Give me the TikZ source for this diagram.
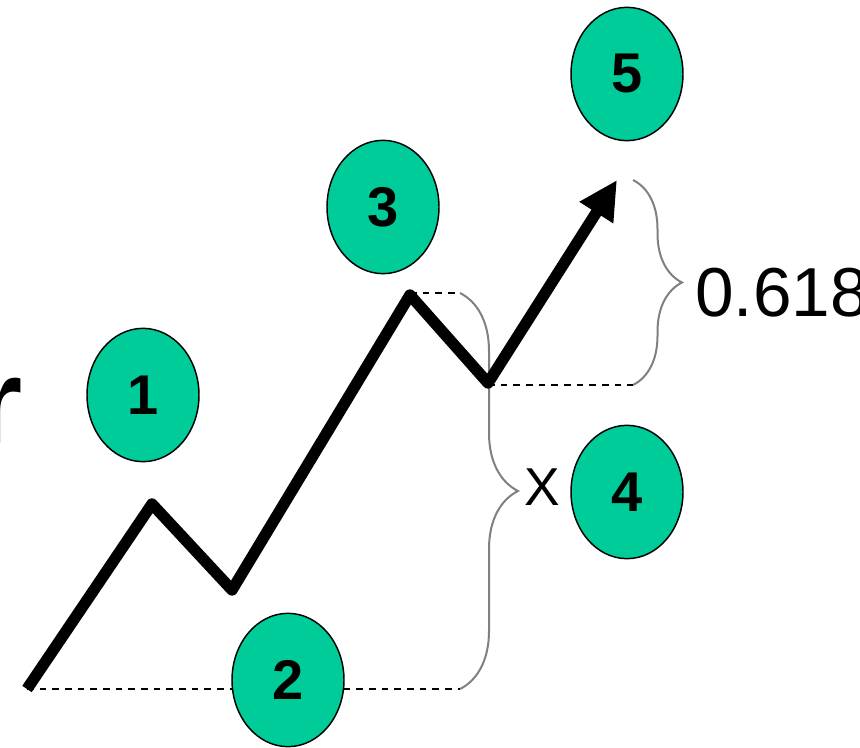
\documentclass[tikz,border=0pt]{standalone}
\usepackage{fontspec}
\setmainfont{Liberation Sans}
\usetikzlibrary{shapes.geometric, arrows.meta, positioning, decorations.pathreplacing}
\definecolor{wavegreen}{RGB}{0,204,153}

\begin{document}
\begin{tikzpicture}[
  x=0.75pt, y=-0.75pt,
  wave/.style={ellipse, draw=black, line width=1.1pt, fill=wavegreen, minimum width=84pt, minimum height=100pt, inner sep=0pt, font=\fontsize{42}{42}\selectfont\bfseries},
  trend/.style={line width=8.5pt, line join=round},
  level/.style={draw=black, line width=1.1pt, dash pattern=on 5pt off 4.5pt},
  measure/.style={draw=gray, line width=1.5pt, decorate, decoration={brace, amplitude=#1}},
  lbl/.style={inner sep=0pt, font=\fontsize{#1}{#1}\selectfont}
]
\useasboundingbox (0,0) rectangle (860,748);

% Points of the wave
\coordinate (p0) at (27,689);
\coordinate (p1) at (152,504);
\coordinate (p2) at (232,590);
\coordinate (p3) at (410,295);
\coordinate (p4) at (488,383);
\coordinate (p5) at (617,180);

% Brace ends
\coordinate (b1top) at (633,180);
\coordinate (b1bot) at (633,385);
\coordinate (b2top) at (460,293);
\coordinate (b2bot) at (460,689);

% Braces and levels
\draw[measure=43.5pt] (b2top) -- (b2bot);
\draw[measure=36.75pt] (b1top) -- (b1bot);
\draw[level] (p0) -- (b2bot);
\draw[level] (p3 |- b2top) -- (b2top);
\draw[level] (p4 |- b1bot) -- (b1bot);

% Wave
\draw[trend, -{Triangle[length=29pt, width=28pt]}] (p0) -- (p1) -- (p2) -- (p3) -- (p4) -- (p5);

% Nodes
\node[wave] (c1) at (143,395) {1};
\node[wave] (c2) at (288,680) {2};
\node[wave] (c3) at (383,207) {3};
\node[wave] (c4) at (627,492) {4};
\node[wave] (c5) at (627,74) {5};

% Labels
\node[inner sep=0pt, font=\fontsize{91}{91}\selectfont\bfseries, anchor=base east] (word) at (23,443) {r};
\node[lbl=52, anchor=base west] (ratio) at (695,317) {0.618};
\node[lbl=40, anchor=base west] (xlen) at (524,505) {X};

\end{tikzpicture}
\end{document}
